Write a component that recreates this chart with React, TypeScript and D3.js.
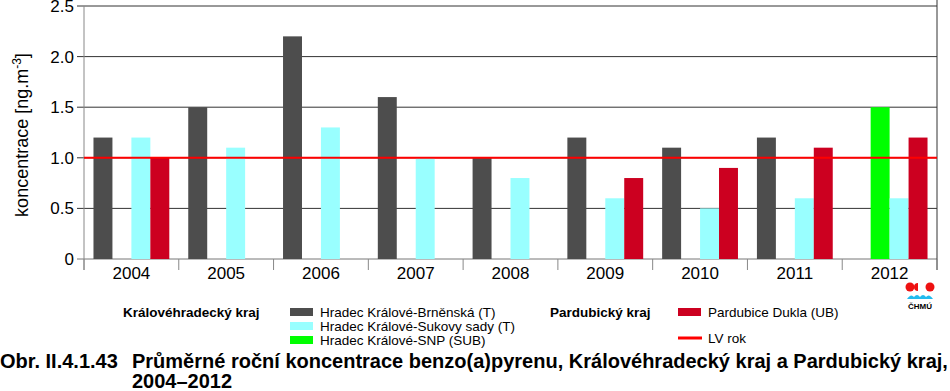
import * as d3 from 'd3';
import React, { useRef, useEffect } from 'react';

// years on the x axis
const years = ['2004', '2005', '2006', '2007', '2008', '2009', '2010', '2011', '2012'];

// annual means of benzo(a)pyrene [ng.m-3], null = no measurement
const brnenska = [1.2, 1.5, 2.2, 1.6, 1.0, 1.2, 1.1, 1.2, null];
const snp = [null, null, null, null, null, null, null, null, 1.5];
const sukovySady = [1.2, 1.1, 1.3, 1.0, 0.8, 0.6, 0.5, 0.6, 0.6];
const dukla = [1.0, null, null, null, null, 0.8, 0.9, 1.1, 1.2];

const limitValue = 1.0;
const yTicks = [0, 0.5, 1.0, 1.5, 2.0, 2.5];

const series = [
    { key: 'brn', values: brnenska, color: '#4d4d4d' },
    { key: 'snp', values: snp, color: '#00ff00' },
    { key: 'suk', values: sukovySady, color: '#99ffff' },
    { key: 'duk', values: dukla, color: '#cc0020' },
];

const W = 950, H = 391;
const left = 84, right = 937, top = 6, bottom = 259;

function Chart() {
    const ref = useRef<SVGSVGElement>(null);

    useEffect(() => {
        const svg = d3.select(ref.current);
        svg.selectAll('*').remove();
        const font = 'Arial, "Liberation Sans", sans-serif';

        const x = d3.scaleBand().domain(years).range([left, right]).padding(0);
        const xs = d3.scaleBand().domain(series.map(s => s.key))
            .range([0, x.bandwidth()]).paddingInner(0).paddingOuter(0.5);
        const y = d3.scaleLinear().domain([0, 2.5]).range([bottom, top]);

        // gridlines + y ticks
        const grid = svg.append('g');
        grid.selectAll('line').data(yTicks).join('line')
            .attr('x1', left - 7).attr('x2', right)
            .attr('y1', d => y(d)).attr('y2', d => y(d))
            .attr('stroke', d => d === 0 ? '#777' : '#333').attr('stroke-width', 1);
        grid.selectAll('text').data(yTicks).join('text')
            .attr('x', left - 10).attr('y', d => y(d) + 6)
            .attr('text-anchor', 'end')
            .attr('font-family', font).attr('font-size', 17)
            .text(d => d === 0 ? '0' : d.toFixed(1));

        // bars
        series.forEach(s => {
            svg.append('g').selectAll('rect')
                .data(years.map((yr, i) => ({ yr, v: s.values[i] })).filter(d => d.v != null))
                .join('rect')
                .attr('x', d => x(d.yr)! + xs(s.key)!)
                .attr('width', xs.bandwidth())
                .attr('y', d => y(d.v as number))
                .attr('height', d => bottom - y(d.v as number))
                .attr('fill', s.color);
        });

        // axes lines
        svg.append('line').attr('x1', left).attr('x2', left).attr('y1', top).attr('y2', bottom + 11)
            .attr('stroke', '#888');
        svg.append('line').attr('x1', right).attr('x2', right).attr('y1', 0).attr('y2', bottom + 11)
            .attr('stroke', '#333');

        // x ticks at group boundaries
        const bounds = years.map(yr => x(yr)!).concat([right]);
        svg.append('g').selectAll('line').data(bounds).join('line')
            .attr('x1', d => d).attr('x2', d => d)
            .attr('y1', bottom).attr('y2', bottom + 11)
            .attr('stroke', '#888');
        svg.append('g').selectAll('text').data(years).join('text')
            .attr('x', d => x(d)! + x.bandwidth() / 2)
            .attr('y', bottom + 20)
            .attr('text-anchor', 'middle')
            .attr('font-family', font).attr('font-size', 17)
            .text(d => d);

        // limit value line
        svg.append('line').attr('x1', left).attr('x2', right)
            .attr('y1', y(limitValue)).attr('y2', y(limitValue))
            .attr('stroke', '#ff0000').attr('stroke-width', 2);

        // y label
        const yl = svg.append('text')
            .attr('transform', `translate(28,${(53 + 217) / 2}) rotate(-90)`)
            .attr('text-anchor', 'middle')
            .attr('font-family', font).attr('font-size', 18);
        yl.append('tspan').text('koncentrace [ng.m');
        yl.append('tspan').attr('font-size', 12).attr('dy', -7).text('-3');
        yl.append('tspan').attr('dy', 7).text(']');

        // legend
        const lg = svg.append('g').attr('font-family', font).attr('font-size', 13.5);
        lg.append('text').attr('x', 123).attr('y', 317).attr('font-weight', 'bold').text('Královéhradecký kraj');
        lg.append('text').attr('x', 550).attr('y', 317).attr('font-weight', 'bold').text('Pardubický kraj');
        const items = [
            { x: 290, y: 312, color: '#4d4d4d', label: 'Hradec Králové-Brněnská (T)' },
            { x: 290, y: 326, color: '#99ffff', label: 'Hradec Králové-Sukovy sady (T)' },
            { x: 290, y: 340, color: '#00ff00', label: 'Hradec Králové-SNP (SUB)' },
            { x: 678, y: 312, color: '#cc0020', label: 'Pardubice Dukla (UB)' },
        ];
        items.forEach(it => {
            lg.append('rect').attr('x', it.x).attr('y', it.y - 4).attr('width', 23).attr('height', 8).attr('fill', it.color);
            lg.append('text').attr('x', it.x + 30).attr('y', it.y + 5).text(it.label);
        });
        lg.append('line').attr('x1', 678).attr('x2', 702).attr('y1', 338).attr('y2', 338)
            .attr('stroke', '#ff0000').attr('stroke-width', 3);
        lg.append('text').attr('x', 708).attr('y', 343).text('LV rok');

        // ČHMÚ logo
        const logo = svg.append('g');
        logo.append('circle').attr('cx', 910).attr('cy', 287).attr('r', 4.5).attr('fill', '#ee1111');
        logo.append('circle').attr('cx', 930).attr('cy', 287).attr('r', 4.5).attr('fill', '#ee1111');
        logo.append('path').attr('d', 'M918,283 A4,4 0 0,0 918,291 Z').attr('fill', '#ee1111');
        logo.append('path')
            .attr('d', 'M907,299 Q911,293 914,297 Q917,293 920,297 Q923,293 926,297 Q929,293 933,299 Z')
            .attr('fill', '#22bbee');
        logo.append('text').attr('x', 920).attr('y', 309).attr('text-anchor', 'middle')
            .attr('font-family', font).attr('font-size', 8).attr('font-weight', 'bold').text('ČHMÚ');

        // caption
        const cap = svg.append('g').attr('font-family', '"Liberation Sans Narrow", "Arial Narrow", Arial, sans-serif')
            .attr('font-weight', 'bold').attr('font-size', 20);
        cap.append('text').attr('x', 0).attr('y', 368).text('Obr. II.4.1.43');
        cap.append('text').attr('x', 132).attr('y', 368)
            .text('Průměrné roční koncentrace benzo(a)pyrenu, Královéhradecký kraj a Pardubický kraj,');
        cap.append('text').attr('x', 132).attr('y', 388).text('2004–2012');
    }, []);

    return <svg ref={ref} width={W} height={H} style={{ display: 'block', background: '#fff' }} />;
}

export default function App() {
    return (
        <div>
            <style>{'body{margin:0}'}</style>
            <Chart />
        </div>
    );
}
